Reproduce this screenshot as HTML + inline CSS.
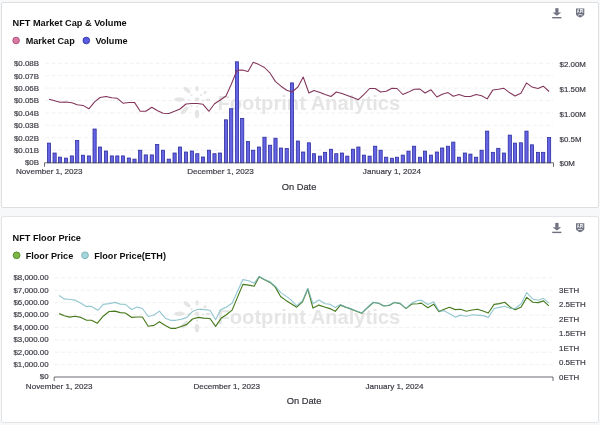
<!DOCTYPE html>
<html><head><meta charset="utf-8"><style>
html,body{margin:0;padding:0;}
body{width:600px;height:425px;background:#f6f8f9;position:relative;overflow:hidden;font-family:"Liberation Sans", sans-serif;}
.card{position:absolute;background:#fff;border:1px solid #dedfe1;border-radius:2px;box-sizing:border-box;}
svg{position:absolute;left:0;top:0;}
#wrap{position:absolute;left:0;top:0;width:600px;height:425px;background:#f6f8f9;filter:blur(0.4px);}
</style></head><body>
<div id="wrap">
<div class="card" style="left:1px;top:2px;width:597.5px;height:206px;"></div>
<div class="card" style="left:1px;top:216px;width:597.5px;height:207px;border-color:#e3e4e6"></div>
<svg width="600" height="425" viewBox="0 0 600 425" font-family='"Liberation Sans", sans-serif'>
<text x="12.5" y="26.4" font-size="9.2" font-weight="bold" fill="#0d0d0d" text-anchor="start" >NFT Market Cap &amp; Volume</text>
<g fill="#6e7080">
<rect x="555.3" y="8.2" width="3.2" height="4.6"/>
<path d="M552.6 12.6 L561.2 12.6 L556.9 15.8 Z"/>
<rect x="552.2" y="17" width="9.2" height="1.4"/>
</g>
<path d="M576 8.6 L584.3 8.6 L584.3 14.2 Q584.3 15.6 580.15 17.6 Q576 15.6 576 14.2 Z" fill="#6e7080"/>
<text x="580.15" y="13.1" font-size="5.3" font-weight="bold" fill="#fff" text-anchor="middle" textLength="6.6" lengthAdjust="spacingAndGlyphs">API</text>
<path d="M577.8 15.1 Q580.15 13.9 582.5 15.1" stroke="#fff" stroke-width="0.8" fill="none"/>
<circle cx="16.1" cy="40.5" r="3.3" fill="#d97aa0" stroke="#a8486f" stroke-width="0.9"/>
<text x="25.7" y="43.9" font-size="9.1" font-weight="bold" fill="#0d0d0d" text-anchor="start" >Market Cap</text>
<circle cx="86.3" cy="40.5" r="3.3" fill="#5c5ce0" stroke="#2e2ea8" stroke-width="0.9"/>
<text x="95.4" y="43.9" font-size="9.1" font-weight="bold" fill="#0d0d0d" text-anchor="start" >Volume</text>
<line x1="45" y1="63.3" x2="553" y2="63.3" stroke="#eeeeee" stroke-width="0.8" stroke-dasharray="4.2 2.3"/>
<line x1="45" y1="75.7" x2="553" y2="75.7" stroke="#eeeeee" stroke-width="0.8" stroke-dasharray="4.2 2.3"/>
<line x1="45" y1="88.1" x2="553" y2="88.1" stroke="#eeeeee" stroke-width="0.8" stroke-dasharray="4.2 2.3"/>
<line x1="45" y1="100.5" x2="553" y2="100.5" stroke="#eeeeee" stroke-width="0.8" stroke-dasharray="4.2 2.3"/>
<line x1="45" y1="112.9" x2="553" y2="112.9" stroke="#eeeeee" stroke-width="0.8" stroke-dasharray="4.2 2.3"/>
<line x1="45" y1="125.3" x2="553" y2="125.3" stroke="#eeeeee" stroke-width="0.8" stroke-dasharray="4.2 2.3"/>
<line x1="45" y1="137.7" x2="553" y2="137.7" stroke="#eeeeee" stroke-width="0.8" stroke-dasharray="4.2 2.3"/>
<line x1="45" y1="150.1" x2="553" y2="150.1" stroke="#eeeeee" stroke-width="0.8" stroke-dasharray="4.2 2.3"/>
<text x="39" y="66.1" font-size="7.9" font-weight="normal" fill="#3c3c46" stroke="#3c3c46" stroke-width="0.2" text-anchor="end" >$0.08B</text>
<text x="39" y="78.5" font-size="7.9" font-weight="normal" fill="#3c3c46" stroke="#3c3c46" stroke-width="0.2" text-anchor="end" >$0.07B</text>
<text x="39" y="90.89999999999999" font-size="7.9" font-weight="normal" fill="#3c3c46" stroke="#3c3c46" stroke-width="0.2" text-anchor="end" >$0.06B</text>
<text x="39" y="103.3" font-size="7.9" font-weight="normal" fill="#3c3c46" stroke="#3c3c46" stroke-width="0.2" text-anchor="end" >$0.05B</text>
<text x="39" y="115.7" font-size="7.9" font-weight="normal" fill="#3c3c46" stroke="#3c3c46" stroke-width="0.2" text-anchor="end" >$0.04B</text>
<text x="39" y="128.1" font-size="7.9" font-weight="normal" fill="#3c3c46" stroke="#3c3c46" stroke-width="0.2" text-anchor="end" >$0.03B</text>
<text x="39" y="140.5" font-size="7.9" font-weight="normal" fill="#3c3c46" stroke="#3c3c46" stroke-width="0.2" text-anchor="end" >$0.02B</text>
<text x="39" y="152.9" font-size="7.9" font-weight="normal" fill="#3c3c46" stroke="#3c3c46" stroke-width="0.2" text-anchor="end" >$0.01B</text>
<text x="39" y="165.3" font-size="7.9" font-weight="normal" fill="#3c3c46" stroke="#3c3c46" stroke-width="0.2" text-anchor="end" >$0B</text>
<text x="559.6" y="67.1" font-size="7.9" font-weight="normal" fill="#3c3c46" stroke="#3c3c46" stroke-width="0.2" text-anchor="start" >$2.00M</text>
<text x="559.6" y="91.89999999999999" font-size="7.9" font-weight="normal" fill="#3c3c46" stroke="#3c3c46" stroke-width="0.2" text-anchor="start" >$1.50M</text>
<text x="559.6" y="116.7" font-size="7.9" font-weight="normal" fill="#3c3c46" stroke="#3c3c46" stroke-width="0.2" text-anchor="start" >$1.00M</text>
<text x="559.6" y="141.5" font-size="7.9" font-weight="normal" fill="#3c3c46" stroke="#3c3c46" stroke-width="0.2" text-anchor="start" >$0.5M</text>
<text x="559.6" y="166.3" font-size="7.9" font-weight="normal" fill="#3c3c46" stroke="#3c3c46" stroke-width="0.2" text-anchor="start" >$0M</text>
<g fill="#e3e3e3" opacity="0.9">
<ellipse cx="187" cy="90.0" rx="4.2" ry="2" transform="rotate(40 187 90.0)"/>
<ellipse cx="197" cy="88.5" rx="1.6" ry="2.8"/>
<ellipse cx="205" cy="92.5" rx="2" ry="1.3" transform="rotate(-40 205 92.5)"/>
<ellipse cx="179.5" cy="99.5" rx="5.5" ry="2.2"/>
<ellipse cx="197" cy="99.5" rx="2.4" ry="2.2"/>
<ellipse cx="208" cy="100.0" rx="2.5" ry="1.4"/>
<ellipse cx="184.5" cy="110.5" rx="4.8" ry="2.2" transform="rotate(-45 184.5 110.5)"/>
<ellipse cx="197" cy="114.0" rx="2.2" ry="4.2"/>
<circle cx="191.5" cy="95.0" r="1.1"/>
<circle cx="201" cy="95.0" r="1.1"/>
<circle cx="203" cy="100.5" r="1.1"/>
<circle cx="191.5" cy="106.0" r="1.1"/>
<circle cx="197" cy="106.5" r="1.1"/>
<circle cx="188.5" cy="100.0" r="1.1"/>
</g>
<text x="217.5" y="109.6" font-family='"Liberation Sans", sans-serif' font-weight="bold" font-size="20.15" fill="#e3e3e3" opacity="0.9">Footprint Analytics</text>
<rect x="47.40" y="143.10" width="3.2" height="19.70" fill="#6464e4" stroke="#28289a" stroke-width="0.75"/>
<rect x="53.00" y="153.00" width="3.2" height="9.80" fill="#6464e4" stroke="#28289a" stroke-width="0.75"/>
<rect x="58.40" y="157.10" width="3.2" height="5.70" fill="#6464e4" stroke="#28289a" stroke-width="0.75"/>
<rect x="64.40" y="158.10" width="3.2" height="4.70" fill="#6464e4" stroke="#28289a" stroke-width="0.75"/>
<rect x="70.30" y="155.90" width="3.2" height="6.90" fill="#6464e4" stroke="#28289a" stroke-width="0.75"/>
<rect x="75.60" y="140.60" width="3.2" height="22.20" fill="#6464e4" stroke="#28289a" stroke-width="0.75"/>
<rect x="81.40" y="155.20" width="3.2" height="7.60" fill="#6464e4" stroke="#28289a" stroke-width="0.75"/>
<rect x="87.30" y="155.90" width="3.2" height="6.90" fill="#6464e4" stroke="#28289a" stroke-width="0.75"/>
<rect x="93.00" y="129.00" width="3.2" height="33.80" fill="#6464e4" stroke="#28289a" stroke-width="0.75"/>
<rect x="98.40" y="147.00" width="3.2" height="15.80" fill="#6464e4" stroke="#28289a" stroke-width="0.75"/>
<rect x="104.40" y="151.00" width="3.2" height="11.80" fill="#6464e4" stroke="#28289a" stroke-width="0.75"/>
<rect x="110.30" y="155.90" width="3.2" height="6.90" fill="#6464e4" stroke="#28289a" stroke-width="0.75"/>
<rect x="115.70" y="155.90" width="3.2" height="6.90" fill="#6464e4" stroke="#28289a" stroke-width="0.75"/>
<rect x="121.40" y="155.90" width="3.2" height="6.90" fill="#6464e4" stroke="#28289a" stroke-width="0.75"/>
<rect x="127.30" y="158.00" width="3.2" height="4.80" fill="#6464e4" stroke="#28289a" stroke-width="0.75"/>
<rect x="132.90" y="159.10" width="3.2" height="3.70" fill="#6464e4" stroke="#28289a" stroke-width="0.75"/>
<rect x="138.60" y="150.20" width="3.2" height="12.60" fill="#6464e4" stroke="#28289a" stroke-width="0.75"/>
<rect x="144.20" y="154.90" width="3.2" height="7.90" fill="#6464e4" stroke="#28289a" stroke-width="0.75"/>
<rect x="150.20" y="154.90" width="3.2" height="7.90" fill="#6464e4" stroke="#28289a" stroke-width="0.75"/>
<rect x="155.60" y="144.60" width="3.2" height="18.20" fill="#6464e4" stroke="#28289a" stroke-width="0.75"/>
<rect x="161.40" y="150.20" width="3.2" height="12.60" fill="#6464e4" stroke="#28289a" stroke-width="0.75"/>
<rect x="167.20" y="159.10" width="3.2" height="3.70" fill="#6464e4" stroke="#28289a" stroke-width="0.75"/>
<rect x="173.00" y="153.00" width="3.2" height="9.80" fill="#6464e4" stroke="#28289a" stroke-width="0.75"/>
<rect x="178.40" y="147.00" width="3.2" height="15.80" fill="#6464e4" stroke="#28289a" stroke-width="0.75"/>
<rect x="184.40" y="152.00" width="3.2" height="10.80" fill="#6464e4" stroke="#28289a" stroke-width="0.75"/>
<rect x="190.30" y="151.00" width="3.2" height="11.80" fill="#6464e4" stroke="#28289a" stroke-width="0.75"/>
<rect x="195.70" y="153.70" width="3.2" height="9.10" fill="#6464e4" stroke="#28289a" stroke-width="0.75"/>
<rect x="201.40" y="157.00" width="3.2" height="5.80" fill="#6464e4" stroke="#28289a" stroke-width="0.75"/>
<rect x="207.40" y="150.20" width="3.2" height="12.60" fill="#6464e4" stroke="#28289a" stroke-width="0.75"/>
<rect x="212.90" y="153.70" width="3.2" height="9.10" fill="#6464e4" stroke="#28289a" stroke-width="0.75"/>
<rect x="218.30" y="153.00" width="3.2" height="9.80" fill="#6464e4" stroke="#28289a" stroke-width="0.75"/>
<rect x="224.40" y="119.80" width="3.2" height="43.00" fill="#6464e4" stroke="#28289a" stroke-width="0.75"/>
<rect x="229.60" y="108.70" width="3.2" height="54.10" fill="#6464e4" stroke="#28289a" stroke-width="0.75"/>
<rect x="235.40" y="61.80" width="3.2" height="101.00" fill="#6464e4" stroke="#28289a" stroke-width="0.75"/>
<rect x="240.60" y="118.40" width="3.2" height="44.40" fill="#6464e4" stroke="#28289a" stroke-width="0.75"/>
<rect x="246.40" y="141.40" width="3.2" height="21.40" fill="#6464e4" stroke="#28289a" stroke-width="0.75"/>
<rect x="251.60" y="150.20" width="3.2" height="12.60" fill="#6464e4" stroke="#28289a" stroke-width="0.75"/>
<rect x="257.40" y="147.00" width="3.2" height="15.80" fill="#6464e4" stroke="#28289a" stroke-width="0.75"/>
<rect x="262.90" y="137.20" width="3.2" height="25.60" fill="#6464e4" stroke="#28289a" stroke-width="0.75"/>
<rect x="268.50" y="145.20" width="3.2" height="17.60" fill="#6464e4" stroke="#28289a" stroke-width="0.75"/>
<rect x="273.90" y="138.20" width="3.2" height="24.60" fill="#6464e4" stroke="#28289a" stroke-width="0.75"/>
<rect x="279.40" y="148.00" width="3.2" height="14.80" fill="#6464e4" stroke="#28289a" stroke-width="0.75"/>
<rect x="285.10" y="148.50" width="3.2" height="14.30" fill="#6464e4" stroke="#28289a" stroke-width="0.75"/>
<rect x="290.40" y="82.90" width="3.2" height="79.90" fill="#6464e4" stroke="#28289a" stroke-width="0.75"/>
<rect x="296.30" y="141.00" width="3.2" height="21.80" fill="#6464e4" stroke="#28289a" stroke-width="0.75"/>
<rect x="301.60" y="152.00" width="3.2" height="10.80" fill="#6464e4" stroke="#28289a" stroke-width="0.75"/>
<rect x="307.30" y="142.80" width="3.2" height="20.00" fill="#6464e4" stroke="#28289a" stroke-width="0.75"/>
<rect x="312.40" y="153.70" width="3.2" height="9.10" fill="#6464e4" stroke="#28289a" stroke-width="0.75"/>
<rect x="318.40" y="156.10" width="3.2" height="6.70" fill="#6464e4" stroke="#28289a" stroke-width="0.75"/>
<rect x="323.50" y="152.30" width="3.2" height="10.50" fill="#6464e4" stroke="#28289a" stroke-width="0.75"/>
<rect x="329.40" y="149.20" width="3.2" height="13.60" fill="#6464e4" stroke="#28289a" stroke-width="0.75"/>
<rect x="334.70" y="153.70" width="3.2" height="9.10" fill="#6464e4" stroke="#28289a" stroke-width="0.75"/>
<rect x="340.40" y="153.00" width="3.2" height="9.80" fill="#6464e4" stroke="#28289a" stroke-width="0.75"/>
<rect x="345.70" y="156.10" width="3.2" height="6.70" fill="#6464e4" stroke="#28289a" stroke-width="0.75"/>
<rect x="351.40" y="149.20" width="3.2" height="13.60" fill="#6464e4" stroke="#28289a" stroke-width="0.75"/>
<rect x="356.80" y="147.00" width="3.2" height="15.80" fill="#6464e4" stroke="#28289a" stroke-width="0.75"/>
<rect x="362.40" y="155.10" width="3.2" height="7.70" fill="#6464e4" stroke="#28289a" stroke-width="0.75"/>
<rect x="368.00" y="156.10" width="3.2" height="6.70" fill="#6464e4" stroke="#28289a" stroke-width="0.75"/>
<rect x="373.60" y="146.20" width="3.2" height="16.60" fill="#6464e4" stroke="#28289a" stroke-width="0.75"/>
<rect x="379.00" y="150.20" width="3.2" height="12.60" fill="#6464e4" stroke="#28289a" stroke-width="0.75"/>
<rect x="384.60" y="157.20" width="3.2" height="5.60" fill="#6464e4" stroke="#28289a" stroke-width="0.75"/>
<rect x="390.40" y="158.20" width="3.2" height="4.60" fill="#6464e4" stroke="#28289a" stroke-width="0.75"/>
<rect x="395.40" y="157.20" width="3.2" height="5.60" fill="#6464e4" stroke="#28289a" stroke-width="0.75"/>
<rect x="401.20" y="155.10" width="3.2" height="7.70" fill="#6464e4" stroke="#28289a" stroke-width="0.75"/>
<rect x="406.90" y="151.10" width="3.2" height="11.70" fill="#6464e4" stroke="#28289a" stroke-width="0.75"/>
<rect x="412.50" y="146.20" width="3.2" height="16.60" fill="#6464e4" stroke="#28289a" stroke-width="0.75"/>
<rect x="418.40" y="157.20" width="3.2" height="5.60" fill="#6464e4" stroke="#28289a" stroke-width="0.75"/>
<rect x="423.40" y="151.10" width="3.2" height="11.70" fill="#6464e4" stroke="#28289a" stroke-width="0.75"/>
<rect x="429.40" y="155.10" width="3.2" height="7.70" fill="#6464e4" stroke="#28289a" stroke-width="0.75"/>
<rect x="435.30" y="152.00" width="3.2" height="10.80" fill="#6464e4" stroke="#28289a" stroke-width="0.75"/>
<rect x="440.60" y="148.00" width="3.2" height="14.80" fill="#6464e4" stroke="#28289a" stroke-width="0.75"/>
<rect x="446.40" y="146.20" width="3.2" height="16.60" fill="#6464e4" stroke="#28289a" stroke-width="0.75"/>
<rect x="451.70" y="142.10" width="3.2" height="20.70" fill="#6464e4" stroke="#28289a" stroke-width="0.75"/>
<rect x="457.40" y="157.20" width="3.2" height="5.60" fill="#6464e4" stroke="#28289a" stroke-width="0.75"/>
<rect x="463.30" y="153.00" width="3.2" height="9.80" fill="#6464e4" stroke="#28289a" stroke-width="0.75"/>
<rect x="468.80" y="154.10" width="3.2" height="8.70" fill="#6464e4" stroke="#28289a" stroke-width="0.75"/>
<rect x="474.50" y="157.20" width="3.2" height="5.60" fill="#6464e4" stroke="#28289a" stroke-width="0.75"/>
<rect x="480.00" y="150.20" width="3.2" height="12.60" fill="#6464e4" stroke="#28289a" stroke-width="0.75"/>
<rect x="485.60" y="131.10" width="3.2" height="31.70" fill="#6464e4" stroke="#28289a" stroke-width="0.75"/>
<rect x="491.30" y="152.30" width="3.2" height="10.50" fill="#6464e4" stroke="#28289a" stroke-width="0.75"/>
<rect x="496.70" y="148.30" width="3.2" height="14.50" fill="#6464e4" stroke="#28289a" stroke-width="0.75"/>
<rect x="502.40" y="153.00" width="3.2" height="9.80" fill="#6464e4" stroke="#28289a" stroke-width="0.75"/>
<rect x="508.20" y="135.10" width="3.2" height="27.70" fill="#6464e4" stroke="#28289a" stroke-width="0.75"/>
<rect x="513.40" y="143.10" width="3.2" height="19.70" fill="#6464e4" stroke="#28289a" stroke-width="0.75"/>
<rect x="519.30" y="142.80" width="3.2" height="20.00" fill="#6464e4" stroke="#28289a" stroke-width="0.75"/>
<rect x="524.90" y="131.10" width="3.2" height="31.70" fill="#6464e4" stroke="#28289a" stroke-width="0.75"/>
<rect x="530.40" y="144.80" width="3.2" height="18.00" fill="#6464e4" stroke="#28289a" stroke-width="0.75"/>
<rect x="536.40" y="152.30" width="3.2" height="10.50" fill="#6464e4" stroke="#28289a" stroke-width="0.75"/>
<rect x="541.60" y="152.30" width="3.2" height="10.50" fill="#6464e4" stroke="#28289a" stroke-width="0.75"/>
<rect x="547.50" y="137.40" width="3.2" height="25.40" fill="#6464e4" stroke="#28289a" stroke-width="0.75"/>
<line x1="44.5" y1="162.8" x2="553.5" y2="162.8" stroke="#50505a" stroke-width="0.85"/>
<line x1="44.5" y1="162.8" x2="44.5" y2="166.8" stroke="#50505a" stroke-width="0.85"/>
<line x1="553.5" y1="162.8" x2="553.5" y2="166.8" stroke="#50505a" stroke-width="0.85"/>
<polyline points="49.0,99.3 54.6,100.8 60.0,102.2 66.0,101.9 71.9,102.8 77.2,104.8 83.0,105.4 88.9,108.8 94.6,101.8 100.0,97.5 106.0,96.6 111.9,97.7 117.3,98.3 123.0,103.2 128.9,102.4 134.5,102.4 140.2,111.3 145.8,111.3 151.8,107.2 157.2,110.5 163.0,113.2 168.8,113.5 174.6,111.3 180.0,109.0 186.0,104.0 191.9,103.4 197.3,103.6 203.0,104.3 209.0,111.3 214.5,103.8 219.9,100.3 226.0,96.0 231.2,84.5 237.0,70.3 242.2,70.1 248.0,71.5 253.2,62.3 259.0,64.6 264.5,67.5 270.1,73.2 275.5,81.6 281.0,86.2 286.7,90.2 292.0,92.0 297.9,87.0 303.2,77.0 308.9,93.0 314.0,90.5 320.0,92.5 325.1,94.5 331.0,96.5 336.3,92.0 342.0,93.5 347.3,95.4 353.0,97.5 358.4,99.7 364.0,94.4 369.6,88.5 375.2,88.5 380.6,92.0 386.2,91.3 392.0,88.3 397.0,88.5 402.8,94.5 408.5,92.1 414.1,89.2 420.0,89.1 425.0,93.0 431.0,89.8 436.9,97.0 442.2,94.2 448.0,92.6 453.3,96.2 459.0,94.6 464.9,96.5 470.4,96.5 476.1,94.4 481.6,95.7 487.2,98.9 492.9,89.9 498.3,89.2 504.0,88.3 509.8,92.8 515.0,96.0 520.9,93.2 526.5,82.9 532.0,87.1 538.0,88.6 543.2,86.2 549.1,91.5" fill="none" stroke="#82345a" stroke-width="1.05" stroke-linejoin="round"/>
<text x="49.3" y="174.2" font-size="8.1" font-weight="normal" fill="#3c3c46" stroke="#3c3c46" stroke-width="0.2" text-anchor="middle" >November 1, 2023</text>
<text x="220.5" y="174.2" font-size="8.1" font-weight="normal" fill="#3c3c46" stroke="#3c3c46" stroke-width="0.2" text-anchor="middle" >December 1, 2023</text>
<text x="391.9" y="174.2" font-size="8.1" font-weight="normal" fill="#3c3c46" stroke="#3c3c46" stroke-width="0.2" text-anchor="middle" >January 1, 2024</text>
<text x="299" y="189.9" font-size="9.3" font-weight="normal" fill="#35353d" stroke="#35353d" stroke-width="0.2" text-anchor="middle" >On Date</text>
<text x="12.5" y="240.5" font-size="9.2" font-weight="bold" fill="#0d0d0d" text-anchor="start" >NFT Floor Price</text>
<g fill="#6e7080">
<rect x="555.3" y="222.89999999999998" width="3.2" height="4.6"/>
<path d="M552.6 227.29999999999998 L561.2 227.29999999999998 L556.9 230.5 Z"/>
<rect x="552.2" y="231.7" width="9.2" height="1.4"/>
</g>
<path d="M576 223.29999999999998 L584.3 223.29999999999998 L584.3 228.89999999999998 Q584.3 230.29999999999998 580.15 232.29999999999998 Q576 230.29999999999998 576 228.89999999999998 Z" fill="#6e7080"/>
<text x="580.15" y="227.79999999999998" font-size="5.3" font-weight="bold" fill="#fff" text-anchor="middle" textLength="6.6" lengthAdjust="spacingAndGlyphs">API</text>
<path d="M577.8 229.79999999999998 Q580.15 228.6 582.5 229.79999999999998" stroke="#fff" stroke-width="0.8" fill="none"/>
<circle cx="16.6" cy="255.3" r="3.4" fill="#7cb648" stroke="#4e8a22" stroke-width="0.9"/>
<text x="25.7" y="258.8" font-size="9.1" font-weight="bold" fill="#0d0d0d" text-anchor="start" >Floor Price</text>
<circle cx="85" cy="255.3" r="3.4" fill="#a3d5da" stroke="#78b0b8" stroke-width="0.9"/>
<text x="94.2" y="258.8" font-size="9.1" font-weight="bold" fill="#0d0d0d" text-anchor="start" >Floor Price(ETH)</text>
<line x1="54.5" y1="277.8" x2="553" y2="277.8" stroke="#eeeeee" stroke-width="0.8" stroke-dasharray="4.2 2.3"/>
<line x1="54.5" y1="290.2" x2="553" y2="290.2" stroke="#eeeeee" stroke-width="0.8" stroke-dasharray="4.2 2.3"/>
<line x1="54.5" y1="302.59999999999997" x2="553" y2="302.59999999999997" stroke="#eeeeee" stroke-width="0.8" stroke-dasharray="4.2 2.3"/>
<line x1="54.5" y1="315.0" x2="553" y2="315.0" stroke="#eeeeee" stroke-width="0.8" stroke-dasharray="4.2 2.3"/>
<line x1="54.5" y1="327.40000000000003" x2="553" y2="327.40000000000003" stroke="#eeeeee" stroke-width="0.8" stroke-dasharray="4.2 2.3"/>
<line x1="54.5" y1="339.8" x2="553" y2="339.8" stroke="#eeeeee" stroke-width="0.8" stroke-dasharray="4.2 2.3"/>
<line x1="54.5" y1="352.2" x2="553" y2="352.2" stroke="#eeeeee" stroke-width="0.8" stroke-dasharray="4.2 2.3"/>
<line x1="54.5" y1="364.59999999999997" x2="553" y2="364.59999999999997" stroke="#eeeeee" stroke-width="0.8" stroke-dasharray="4.2 2.3"/>
<text x="48.6" y="280.1" font-size="7.9" font-weight="normal" fill="#3c3c46" stroke="#3c3c46" stroke-width="0.2" text-anchor="end" >$8,000.00</text>
<text x="48.6" y="292.5" font-size="7.9" font-weight="normal" fill="#3c3c46" stroke="#3c3c46" stroke-width="0.2" text-anchor="end" >$7,000.00</text>
<text x="48.6" y="304.9" font-size="7.9" font-weight="normal" fill="#3c3c46" stroke="#3c3c46" stroke-width="0.2" text-anchor="end" >$6,000.00</text>
<text x="48.6" y="317.3" font-size="7.9" font-weight="normal" fill="#3c3c46" stroke="#3c3c46" stroke-width="0.2" text-anchor="end" >$5,000.00</text>
<text x="48.6" y="329.70000000000005" font-size="7.9" font-weight="normal" fill="#3c3c46" stroke="#3c3c46" stroke-width="0.2" text-anchor="end" >$4,000.00</text>
<text x="48.6" y="342.1" font-size="7.9" font-weight="normal" fill="#3c3c46" stroke="#3c3c46" stroke-width="0.2" text-anchor="end" >$3,000.00</text>
<text x="48.6" y="354.5" font-size="7.9" font-weight="normal" fill="#3c3c46" stroke="#3c3c46" stroke-width="0.2" text-anchor="end" >$2,000.00</text>
<text x="48.6" y="366.9" font-size="7.9" font-weight="normal" fill="#3c3c46" stroke="#3c3c46" stroke-width="0.2" text-anchor="end" >$1,000.00</text>
<text x="48.6" y="379.3" font-size="7.9" font-weight="normal" fill="#3c3c46" stroke="#3c3c46" stroke-width="0.2" text-anchor="end" >$0</text>
<text x="559" y="379.6" font-size="7.9" font-weight="normal" fill="#3c3c46" stroke="#3c3c46" stroke-width="0.2" text-anchor="start" >0ETH</text>
<text x="559" y="365.15000000000003" font-size="7.9" font-weight="normal" fill="#3c3c46" stroke="#3c3c46" stroke-width="0.2" text-anchor="start" >0.5ETH</text>
<text x="559" y="350.70000000000005" font-size="7.9" font-weight="normal" fill="#3c3c46" stroke="#3c3c46" stroke-width="0.2" text-anchor="start" >1ETH</text>
<text x="559" y="336.25" font-size="7.9" font-weight="normal" fill="#3c3c46" stroke="#3c3c46" stroke-width="0.2" text-anchor="start" >1.5ETH</text>
<text x="559" y="321.8" font-size="7.9" font-weight="normal" fill="#3c3c46" stroke="#3c3c46" stroke-width="0.2" text-anchor="start" >2ETH</text>
<text x="559" y="307.35" font-size="7.9" font-weight="normal" fill="#3c3c46" stroke="#3c3c46" stroke-width="0.2" text-anchor="start" >2.5ETH</text>
<text x="559" y="292.90000000000003" font-size="7.9" font-weight="normal" fill="#3c3c46" stroke="#3c3c46" stroke-width="0.2" text-anchor="start" >3ETH</text>
<g fill="#e3e3e3" opacity="0.9">
<ellipse cx="187" cy="304.2" rx="4.2" ry="2" transform="rotate(40 187 304.2)"/>
<ellipse cx="197" cy="302.7" rx="1.6" ry="2.8"/>
<ellipse cx="205" cy="306.7" rx="2" ry="1.3" transform="rotate(-40 205 306.7)"/>
<ellipse cx="179.5" cy="313.7" rx="5.5" ry="2.2"/>
<ellipse cx="197" cy="313.7" rx="2.4" ry="2.2"/>
<ellipse cx="208" cy="314.2" rx="2.5" ry="1.4"/>
<ellipse cx="184.5" cy="324.7" rx="4.8" ry="2.2" transform="rotate(-45 184.5 324.7)"/>
<ellipse cx="197" cy="328.2" rx="2.2" ry="4.2"/>
<circle cx="191.5" cy="309.2" r="1.1"/>
<circle cx="201" cy="309.2" r="1.1"/>
<circle cx="203" cy="314.7" r="1.1"/>
<circle cx="191.5" cy="320.2" r="1.1"/>
<circle cx="197" cy="320.7" r="1.1"/>
<circle cx="188.5" cy="314.2" r="1.1"/>
</g>
<text x="217.5" y="323.8" font-family='"Liberation Sans", sans-serif' font-weight="bold" font-size="20.15" fill="#e3e3e3" opacity="0.9">Footprint Analytics</text>
<line x1="54.2" y1="377.0" x2="553" y2="377.0" stroke="#50505a" stroke-width="0.85"/>
<line x1="54.2" y1="377.0" x2="54.2" y2="381.0" stroke="#50505a" stroke-width="0.85"/>
<line x1="553" y1="377.0" x2="553" y2="381.0" stroke="#50505a" stroke-width="0.85"/>
<polyline points="59.1,313.6 64.4,315.8 69.7,317.1 75.0,316.2 80.9,317.4 86.2,320.1 91.5,320.3 97.4,323.2 103.2,316.2 109.1,311.5 115.0,311.1 120.3,312.6 125.3,313.0 131.8,317.4 137.1,317.0 142.4,317.0 148.2,326.2 154.1,325.4 159.4,321.7 165.3,325.6 170.6,328.3 175.9,328.3 181.8,326.2 186.9,324.4 192.5,319.0 198.2,317.4 203.8,318.1 210.0,318.5 215.6,326.3 221.3,318.1 226.4,314.8 232.1,310.1 242.9,284.4 248.8,285.1 254.1,286.2 259.2,276.8 264.1,279.4 270.0,282.4 275.3,287.1 280.6,296.5 285.9,300.4 290.8,303.4 296.7,307.2 302.5,301.9 307.8,289.0 313.0,308.1 318.8,305.1 325.3,307.2 329.9,308.6 335.2,311.3 340.4,305.1 346.3,307.4 350.0,308.6 356.4,311.2 361.7,313.3 367.5,307.7 373.3,302.5 378.6,303.3 383.8,306.0 389.1,305.4 394.3,302.5 400.2,303.6 406.0,308.6 411.8,304.0 417.7,303.8 421.4,303.1 427.8,307.7 433.7,304.2 438.9,311.6 444.2,309.3 449.4,307.3 455.3,309.6 460.5,309.3 466.3,311.2 472.2,310.0 477.5,309.2 483.0,311.0 488.3,313.0 494.1,304.4 499.4,303.6 504.7,302.3 510.6,307.4 515.3,309.7 521.2,307.0 526.7,297.4 532.9,302.3 538.2,302.6 543.5,300.9 548.8,305.8" fill="none" stroke="#477a1c" stroke-width="1.15" stroke-linejoin="round"/>
<polyline points="59.1,295.4 64.4,298.9 69.7,299.5 75.0,300.1 80.9,303.2 86.2,306.4 91.5,306.4 97.9,310.3 103.2,304.4 109.1,303.6 115.0,302.4 120.3,304.1 125.3,304.4 131.8,309.5 137.1,307.1 142.4,308.5 148.2,316.5 154.1,315.0 159.4,311.1 165.3,318.2 170.6,320.3 175.9,320.3 181.8,319.1 186.9,317.4 192.5,311.5 198.2,309.3 203.8,309.6 210.0,310.3 215.6,319.7 220.8,309.6 226.4,307.1 232.1,303.3 242.9,279.6 248.8,280.8 254.1,283.2 259.2,276.5 264.1,279.2 270.0,281.8 275.3,286.2 280.6,292.4 285.9,296.1 290.8,299.6 296.7,305.8 302.5,300.8 307.8,288.6 313.0,303.7 318.8,299.9 325.3,303.7 329.9,304.3 335.2,307.4 340.4,304.6 346.3,307.2 350.0,308.4 356.4,311.0 361.7,312.8 367.5,307.5 373.3,302.3 378.6,303.1 383.8,305.8 389.1,305.2 394.3,302.3 400.2,303.4 406.0,308.4 411.8,303.1 417.7,300.5 421.4,300.3 427.8,304.6 433.7,301.7 438.9,311.0 444.2,310.8 450.0,313.9 455.3,317.1 460.5,315.1 466.3,316.3 472.2,314.7 477.5,315.1 483.0,315.6 488.3,317.4 494.1,308.5 499.4,307.4 504.7,306.2 510.6,308.5 515.3,308.5 521.2,303.8 526.7,292.6 532.9,299.1 538.2,300.3 543.5,298.3 548.8,303.2" fill="none" stroke="#72b6c2" stroke-width="1.15" stroke-linejoin="round" opacity="0.75"/>
<text x="59.1" y="388.7" font-size="8.1" font-weight="normal" fill="#3c3c46" stroke="#3c3c46" stroke-width="0.2" text-anchor="middle" >November 1, 2023</text>
<text x="226.7" y="388.7" font-size="8.1" font-weight="normal" fill="#3c3c46" stroke="#3c3c46" stroke-width="0.2" text-anchor="middle" >December 1, 2023</text>
<text x="394.6" y="388.7" font-size="8.1" font-weight="normal" fill="#3c3c46" stroke="#3c3c46" stroke-width="0.2" text-anchor="middle" >January 1, 2024</text>
<text x="304" y="404.1" font-size="9.3" font-weight="normal" fill="#35353d" stroke="#35353d" stroke-width="0.2" text-anchor="middle" >On Date</text>
</svg>
</div>
</body></html>
